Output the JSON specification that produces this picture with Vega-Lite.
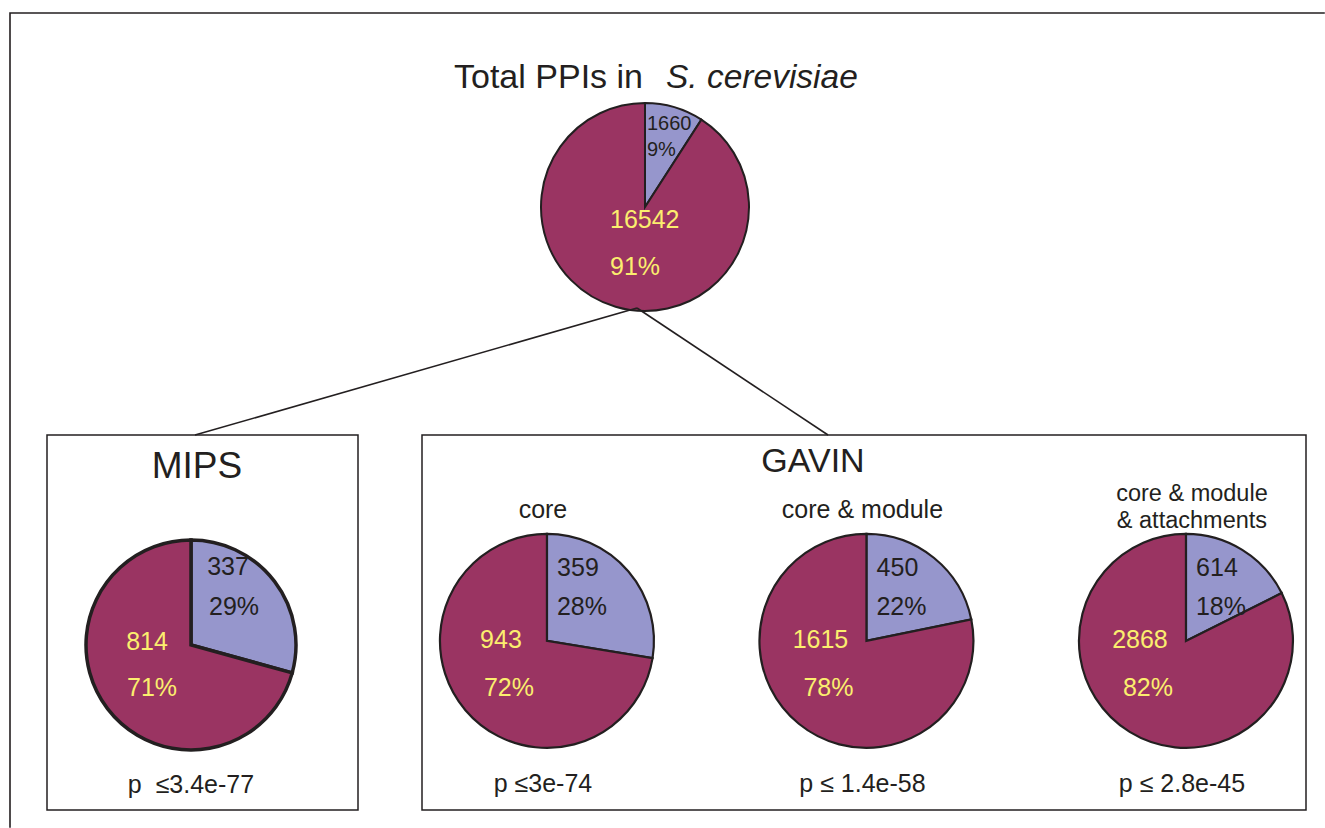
{
  "$schema": "https://vega.github.io/schema/vega-lite/v6.json",
  "padding": {"left": 6, "top": 0, "right": 0, "bottom": 0},
  "background": "white",
  "bounds": "flush",
  "spacing": 0,
  "config": {
    "font": "Liberation Sans",
    "view": {"stroke": null},
    "text": {"font": "Liberation Sans", "color": "#231f20"}
  },
  "datasets": {
    "slices": [
      {"group": "Total", "panel": "Total", "category": "subset", "count": 1660, "share": 0.09},
      {"group": "Total", "panel": "Total", "category": "other", "count": 16542, "share": 0.91},
      {"group": "MIPS", "panel": "MIPS", "category": "subset", "count": 337, "share": 0.29},
      {"group": "MIPS", "panel": "MIPS", "category": "other", "count": 814, "share": 0.71},
      {"group": "GAVIN", "panel": "core", "category": "subset", "count": 359, "share": 0.28},
      {"group": "GAVIN", "panel": "core", "category": "other", "count": 943, "share": 0.72},
      {"group": "GAVIN", "panel": "core & module", "category": "subset", "count": 450, "share": 0.22},
      {"group": "GAVIN", "panel": "core & module", "category": "other", "count": 1615, "share": 0.78},
      {"group": "GAVIN", "panel": "core & module & attachments", "category": "subset", "count": 614, "share": 0.18},
      {"group": "GAVIN", "panel": "core & module & attachments", "category": "other", "count": 2868, "share": 0.82}
    ],
    "panels": [
      {"group": "MIPS", "panel": "MIPS", "heading": "", "test": "p\u00a0 ≤3.4e-77"},
      {"group": "GAVIN", "panel": "core", "heading": "core", "test": "p ≤3e-74"},
      {"group": "GAVIN", "panel": "core & module", "heading": "core & module", "test": "p ≤ 1.4e-58"},
      {"group": "GAVIN", "panel": "core & module & attachments", "heading": "core & module\n& attachments", "test": "p ≤ 2.8e-45"}
    ],
    "groups": [
      {"group": "Total", "title": "Total PPIs in", "species": "S. cerevisiae"},
      {"group": "MIPS", "title": "MIPS", "species": ""},
      {"group": "GAVIN", "title": "GAVIN", "species": ""}
    ],
    "links": [
      {"from": "Total", "to": "MIPS"},
      {"from": "Total", "to": "GAVIN"}
    ],
    "frame": [
      {"col": "left", "row": "bottom", "step": 1},
      {"col": "left", "row": "top", "step": 2},
      {"col": "right", "row": "top", "step": 3}
    ]
  },
  "vconcat": [
    {
      "width": 1260,
      "height": 435,
      "view": {"stroke": null},
      "layer": [
        {
          "layer": [
            {
              "data": {"name": "slices"},
              "transform": [
                {"filter": "datum.group === 'Total'"},
                {"stack": "count", "groupby": ["panel"], "sort": [{"field": "category", "order": "descending"}], "offset": "normalize", "as": ["start", "end"]}
              ],
              "mark": {"type": "arc", "radius": 104, "stroke": "#231f20", "strokeWidth": 2},
              "encoding": {
                "x": {"field": "panel", "type": "nominal", "axis": null, "scale": {"type": "point", "align": 0.4746}},
                "y": {"field": "panel", "type": "nominal", "axis": null, "scale": {"type": "point", "align": 0.4759}},
                "theta": {"field": "start", "type": "quantitative", "scale": {"domain": [0, 1]}},
                "theta2": {"field": "end"},
                "color": {"field": "category", "type": "nominal", "legend": null, "scale": {"domain": ["subset", "other"], "range": ["#9696cc", "#9a3462"]}}
              }
            },
            {
              "data": {"name": "slices"},
              "transform": [{"filter": "datum.group === 'Total' && datum.category === 'subset'"}],
              "mark": {"type": "text", "align": "left", "baseline": "middle", "dx": 2, "dy": -83, "fontSize": 20, "color": "#231f20"},
              "encoding": {
                "x": {"field": "panel", "type": "nominal", "axis": null},
                "y": {"field": "panel", "type": "nominal", "axis": null},
                "text": {"field": "count", "type": "quantitative", "format": "d"}
              }
            },
            {
              "data": {"name": "slices"},
              "transform": [{"filter": "datum.group === 'Total' && datum.category === 'subset'"}],
              "mark": {"type": "text", "align": "left", "baseline": "middle", "dx": 2, "dy": -57, "fontSize": 20, "color": "#231f20"},
              "encoding": {
                "x": {"field": "panel", "type": "nominal", "axis": null},
                "y": {"field": "panel", "type": "nominal", "axis": null},
                "text": {"field": "share", "type": "quantitative", "format": ".0%"}
              }
            },
            {
              "data": {"name": "slices"},
              "transform": [{"filter": "datum.group === 'Total' && datum.category === 'other'"}],
              "mark": {"type": "text", "align": "left", "baseline": "middle", "dx": -35, "dy": 13, "fontSize": 25, "color": "#fbee6e"},
              "encoding": {
                "x": {"field": "panel", "type": "nominal", "axis": null},
                "y": {"field": "panel", "type": "nominal", "axis": null},
                "text": {"field": "count", "type": "quantitative", "format": "d"}
              }
            },
            {
              "data": {"name": "slices"},
              "transform": [{"filter": "datum.group === 'Total' && datum.category === 'other'"}],
              "mark": {"type": "text", "align": "left", "baseline": "middle", "dx": -35, "dy": 60, "fontSize": 25, "color": "#fbee6e"},
              "encoding": {
                "x": {"field": "panel", "type": "nominal", "axis": null},
                "y": {"field": "panel", "type": "nominal", "axis": null},
                "text": {"field": "share", "type": "quantitative", "format": ".0%"}
              }
            },
            {
              "data": {"name": "groups"},
              "transform": [{"filter": "datum.group === 'Total'"}],
              "mark": {"type": "text", "align": "right", "baseline": "middle", "dx": -34, "dy": -129, "fontSize": 34, "color": "#231f20"},
              "encoding": {
                "y": {"field": "group", "type": "nominal", "axis": null},
                "text": {"field": "title", "type": "nominal"}
              }
            },
            {
              "data": {"name": "groups"},
              "transform": [{"filter": "datum.group === 'Total'"}],
              "mark": {"type": "text", "align": "left", "baseline": "middle", "dx": -11, "dy": -129, "fontSize": 33.5, "fontStyle": "italic", "color": "#231f20"},
              "encoding": {
                "y": {"field": "group", "type": "nominal", "axis": null},
                "text": {"field": "species", "type": "nominal"}
              }
            }
          ]
        },
        {
          "data": {"name": "links"},
          "transform": [{"filter": "datum.to === 'MIPS'"}],
          "mark": {"type": "rule", "stroke": "#231f20", "strokeWidth": 1.6},
          "encoding": {
            "x": {"field": "to", "type": "nominal", "axis": null, "scale": {"type": "point", "domain": ["MIPS", "Total"], "range": [148, 590], "padding": 0}},
            "x2": {"field": "from"},
            "y": {"field": "to", "type": "nominal", "axis": null, "scale": {"type": "point", "domain": ["Total", "MIPS"], "range": [308, 435], "padding": 0}},
            "y2": {"field": "from"}
          }
        },
        {
          "data": {"name": "links"},
          "transform": [{"filter": "datum.to === 'GAVIN'"}],
          "mark": {"type": "rule", "stroke": "#231f20", "strokeWidth": 1.6},
          "encoding": {
            "x": {"field": "to", "type": "nominal", "axis": null, "scale": {"type": "point", "domain": ["Total", "GAVIN"], "range": [590, 781], "padding": 0}},
            "x2": {"field": "from"},
            "y": {"field": "to", "type": "nominal", "axis": null, "scale": {"type": "point", "domain": ["Total", "GAVIN"], "range": [308, 435], "padding": 0}},
            "y2": {"field": "from"}
          }
        },
        {
          "data": {"name": "frame"},
          "mark": {"type": "line", "stroke": "#231f20", "strokeWidth": 1.6, "strokeCap": "square"},
          "encoding": {
            "x": {"field": "col", "type": "nominal", "axis": null, "scale": {"type": "point", "domain": ["left", "right"], "range": [-37, 1277], "padding": 0}},
            "y": {"field": "row", "type": "nominal", "axis": null, "scale": {"type": "point", "domain": ["top", "bottom"], "range": [13, 827], "padding": 0}},
            "order": {"field": "step", "type": "quantitative"}
          }
        }
      ],
      "resolve": {"scale": {"x": "independent", "y": "independent"}}
    },
    {
      "spacing": 62,
      "hconcat": [
        {
          "width": 311,
          "height": 375,
          "view": {"stroke": "#231f20", "strokeWidth": 1.5},
          "layer": [
            {
              "data": {"name": "slices"},
              "transform": [
                {"filter": "datum.group === 'MIPS'"},
                {"stack": "count", "groupby": ["panel"], "sort": [{"field": "category", "order": "descending"}], "offset": "normalize", "as": ["start", "end"]}
              ],
              "mark": {"type": "arc", "radius": 105, "stroke": "#231f20", "strokeWidth": 3.5},
              "encoding": {
                "x": {"field": "panel", "type": "nominal", "axis": null, "scale": {"type": "point", "align": 0.463}},
                "y": {"field": "panel", "type": "nominal", "axis": null, "scale": {"type": "point", "align": 0.56}},
                "theta": {"field": "start", "type": "quantitative", "scale": {"domain": [0, 1]}},
                "theta2": {"field": "end"},
                "color": {"field": "category", "type": "nominal", "legend": null, "scale": {"domain": ["subset", "other"], "range": ["#9696cc", "#9a3462"]}}
              }
            },
            {
              "data": {"name": "slices"},
              "transform": [{"filter": "datum.group === 'MIPS' && datum.category === 'subset'"}],
              "mark": {"type": "text", "align": "center", "baseline": "middle", "dx": 37, "dy": -78, "fontSize": 25, "color": "#231f20"},
              "encoding": {
                "x": {"field": "panel", "type": "nominal", "axis": null},
                "y": {"field": "panel", "type": "nominal", "axis": null},
                "text": {"field": "count", "type": "quantitative", "format": "d"}
              }
            },
            {
              "data": {"name": "slices"},
              "transform": [{"filter": "datum.group === 'MIPS' && datum.category === 'subset'"}],
              "mark": {"type": "text", "align": "center", "baseline": "middle", "dx": 43, "dy": -38, "fontSize": 25, "color": "#231f20"},
              "encoding": {
                "x": {"field": "panel", "type": "nominal", "axis": null},
                "y": {"field": "panel", "type": "nominal", "axis": null},
                "text": {"field": "share", "type": "quantitative", "format": ".0%"}
              }
            },
            {
              "data": {"name": "slices"},
              "transform": [{"filter": "datum.group === 'MIPS' && datum.category === 'other'"}],
              "mark": {"type": "text", "align": "center", "baseline": "middle", "dx": -44, "dy": -3, "fontSize": 25, "color": "#fbee6e"},
              "encoding": {
                "x": {"field": "panel", "type": "nominal", "axis": null},
                "y": {"field": "panel", "type": "nominal", "axis": null},
                "text": {"field": "count", "type": "quantitative", "format": "d"}
              }
            },
            {
              "data": {"name": "slices"},
              "transform": [{"filter": "datum.group === 'MIPS' && datum.category === 'other'"}],
              "mark": {"type": "text", "align": "center", "baseline": "middle", "dx": -39, "dy": 43, "fontSize": 25, "color": "#fbee6e"},
              "encoding": {
                "x": {"field": "panel", "type": "nominal", "axis": null},
                "y": {"field": "panel", "type": "nominal", "axis": null},
                "text": {"field": "share", "type": "quantitative", "format": ".0%"}
              }
            },
            {
              "data": {"name": "groups"},
              "transform": [{"filter": "datum.group === 'MIPS'"}],
              "mark": {"type": "text", "align": "center", "baseline": "middle", "dx": -5.5, "dy": -178, "fontSize": 37, "color": "#231f20"},
              "encoding": {
                "y": {"field": "group", "type": "nominal", "axis": null},
                "text": {"field": "title", "type": "nominal"}
              }
            },
            {
              "data": {"name": "panels"},
              "transform": [{"filter": "datum.group === 'MIPS'"}],
              "mark": {"type": "text", "align": "center", "baseline": "middle", "dx": 0, "dy": 140, "fontSize": 25, "color": "#231f20"},
              "encoding": {
                "x": {"field": "panel", "type": "nominal", "axis": null},
                "y": {"field": "panel", "type": "nominal", "axis": null},
                "text": {"field": "test", "type": "nominal"}
              }
            }
          ]
        },
        {
          "width": 884,
          "height": 375,
          "view": {"stroke": "#231f20", "strokeWidth": 1.5},
          "layer": [
            {
              "data": {"name": "slices"},
              "transform": [
                {"filter": "datum.group === 'GAVIN'"},
                {"stack": "count", "groupby": ["panel"], "sort": [{"field": "category", "order": "descending"}], "offset": "normalize", "as": ["start", "end"]}
              ],
              "mark": {"type": "arc", "radius": 107, "stroke": "#231f20", "strokeWidth": 2.2},
              "encoding": {
                "x": {"field": "panel", "type": "nominal", "axis": null, "sort": null, "scale": {"type": "point", "domain": ["core", "core & module", "core & module & attachments"], "padding": 0.3834, "align": 0.51}},
                "y": {"field": "group", "type": "nominal", "axis": null, "scale": {"type": "point", "align": 0.549}},
                "theta": {"field": "start", "type": "quantitative", "scale": {"domain": [0, 1]}},
                "theta2": {"field": "end"},
                "color": {"field": "category", "type": "nominal", "legend": null, "scale": {"domain": ["subset", "other"], "range": ["#9696cc", "#9a3462"]}}
              }
            },
            {
              "data": {"name": "slices"},
              "transform": [{"filter": "datum.group === 'GAVIN' && datum.category === 'subset'"}],
              "mark": {"type": "text", "align": "center", "baseline": "middle", "dx": 31, "dy": -73, "fontSize": 25, "color": "#231f20"},
              "encoding": {
                "x": {"field": "panel", "type": "nominal", "axis": null},
                "y": {"field": "group", "type": "nominal", "axis": null},
                "text": {"field": "count", "type": "quantitative", "format": "d"}
              }
            },
            {
              "data": {"name": "slices"},
              "transform": [{"filter": "datum.group === 'GAVIN' && datum.category === 'subset'"}],
              "mark": {"type": "text", "align": "center", "baseline": "middle", "dx": 35, "dy": -34, "fontSize": 25, "color": "#231f20"},
              "encoding": {
                "x": {"field": "panel", "type": "nominal", "axis": null},
                "y": {"field": "group", "type": "nominal", "axis": null},
                "text": {"field": "share", "type": "quantitative", "format": ".0%"}
              }
            },
            {
              "data": {"name": "slices"},
              "transform": [{"filter": "datum.group === 'GAVIN' && datum.category === 'other'"}],
              "mark": {"type": "text", "align": "center", "baseline": "middle", "dx": -46, "dy": -1, "fontSize": 25, "color": "#fbee6e"},
              "encoding": {
                "x": {"field": "panel", "type": "nominal", "axis": null},
                "y": {"field": "group", "type": "nominal", "axis": null},
                "text": {"field": "count", "type": "quantitative", "format": "d"}
              }
            },
            {
              "data": {"name": "slices"},
              "transform": [{"filter": "datum.group === 'GAVIN' && datum.category === 'other'"}],
              "mark": {"type": "text", "align": "center", "baseline": "middle", "dx": -38, "dy": 47, "fontSize": 25, "color": "#fbee6e"},
              "encoding": {
                "x": {"field": "panel", "type": "nominal", "axis": null},
                "y": {"field": "group", "type": "nominal", "axis": null},
                "text": {"field": "share", "type": "quantitative", "format": ".0%"}
              }
            },
            {
              "data": {"name": "panels"},
              "transform": [{"filter": "datum.group === 'GAVIN' && datum.panel !== 'core & module & attachments'"}],
              "mark": {"type": "text", "align": "center", "baseline": "middle", "dx": -4, "dy": -131, "fontSize": 25, "color": "#231f20"},
              "encoding": {
                "x": {"field": "panel", "type": "nominal", "axis": null},
                "y": {"field": "group", "type": "nominal", "axis": null},
                "text": {"field": "heading", "type": "nominal"}
              }
            },
            {
              "data": {"name": "panels"},
              "transform": [{"filter": "datum.panel === 'core & module & attachments'"}],
              "mark": {"type": "text", "align": "center", "baseline": "middle", "dx": 6, "dy": -147, "fontSize": 23.5, "lineBreak": "\n", "lineHeight": 27, "color": "#231f20"},
              "encoding": {
                "x": {"field": "panel", "type": "nominal", "axis": null},
                "y": {"field": "group", "type": "nominal", "axis": null},
                "text": {"field": "heading", "type": "nominal"}
              }
            },
            {
              "data": {"name": "panels"},
              "transform": [{"filter": "datum.group === 'GAVIN'"}],
              "mark": {"type": "text", "align": "center", "baseline": "middle", "dx": -4, "dy": 143, "fontSize": 25, "color": "#231f20"},
              "encoding": {
                "x": {"field": "panel", "type": "nominal", "axis": null},
                "y": {"field": "group", "type": "nominal", "axis": null},
                "text": {"field": "test", "type": "nominal"}
              }
            },
            {
              "data": {"name": "groups"},
              "transform": [{"filter": "datum.group === 'GAVIN'"}],
              "mark": {"type": "text", "align": "center", "baseline": "middle", "dx": -51, "dy": -179, "fontSize": 34, "color": "#231f20"},
              "encoding": {
                "y": {"field": "group", "type": "nominal", "axis": null},
                "text": {"field": "title", "type": "nominal"}
              }
            }
          ]
        }
      ]
    }
  ]
}
